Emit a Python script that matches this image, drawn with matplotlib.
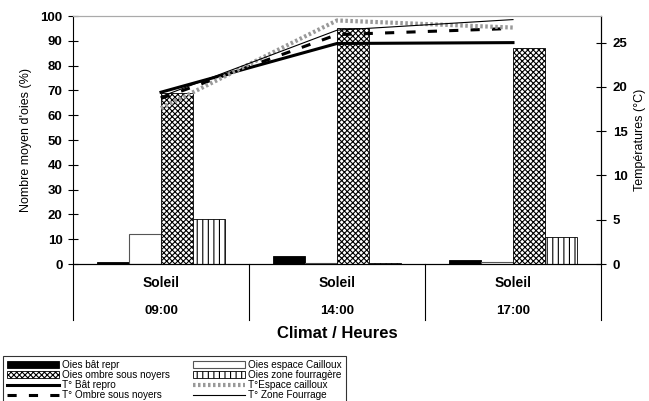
import numpy as np
import matplotlib
matplotlib.use('Agg')
import matplotlib.pyplot as plt
from matplotlib.transforms import blended_transform_factory

plt.rcParams['font.family'] = ['Liberation Sans', 'DejaVu Sans']
plt.rcParams['hatch.linewidth'] = 0.8

# donnees
climat = ['Soleil', 'Soleil', 'Soleil']
heures = ['09:00', '14:00', '17:00']

oies_bat = [1.0, 3.4, 1.5]
oies_cailloux = [12.0, 0.3, 0.8]
oies_ombre = [69.0, 95.0, 87.0]
oies_fourrage = [18.0, 0.3, 10.9]

t_bat = [19.4, 24.9, 25.0]
t_ombre = [18.7, 25.9, 26.6]
t_cailloux = [17.6, 27.5, 26.7]
t_fourrage = [18.9, 26.4, 27.6]

fig = plt.figure(figsize=(6.49, 4.01), dpi=100)
ax = fig.add_axes([0.1125, 0.3416, 0.8135, 0.6184])
ax2 = ax.twinx()

x = np.arange(len(heures)) + 0.5
w = 0.182

b1 = ax.bar(x - 1.5 * w, oies_bat, w, color='black', edgecolor='black', lw=0.6)
b2 = ax.bar(x - 0.5 * w, oies_cailloux, w, color='white', edgecolor='#555555', lw=0.8)
b3 = ax.bar(x + 0.5 * w, oies_ombre, w, color='white', edgecolor='black', lw=0.6, hatch='xxxxxx')
b4 = ax.bar(x + 1.5 * w, oies_fourrage, w, color='white', edgecolor='black', lw=0.6, hatch='|||')

l1, = ax2.plot(x, t_bat, color='black', lw=2.2)
l2, = ax2.plot(x, t_ombre, color='black', lw=2.2, ls=(0, (3, 4)))
l3, = ax2.plot(x, t_cailloux, color='#999999', lw=3, ls=(0, (0.6, 0.6)))
l4, = ax2.plot(x, t_fourrage, color='black', lw=0.8)

ax.set_xlim(0, 3)
ax.set_ylim(0, 100)
ax.set_yticks(np.arange(0, 101, 10))
ax2.set_ylim(0, 28)
ax2.set_yticks(np.arange(0, 26, 5))

for a in (ax, ax2):
    a.tick_params(axis='y', direction='inout', length=7, width=0.8, labelsize=9.5)
    for lab in a.get_yticklabels():
        lab.set_fontweight('bold')
    a.spines['top'].set_color('#aaaaaa')
ax.tick_params(axis='y', pad=4)
ax2.tick_params(axis='y', pad=5)
ax.tick_params(axis='x', bottom=False, labelbottom=False)
ax2.spines['left'].set_visible(False)

ax.set_ylabel("Nombre moyen d'oies (%)", fontsize=9, labelpad=6)
ax2.set_ylabel('Températures (°C)', fontsize=9, labelpad=5)

# etiquettes a deux niveaux sous l'axe
tr = blended_transform_factory(ax.transData, ax.transAxes)
for xs in [0, 1, 2, 3]:
    ax.plot([xs, xs], [0, -0.225], color='black', lw=0.8, transform=tr, clip_on=False)
for xi, c, h in zip(x, climat, heures):
    ax.text(xi, -0.075, c, transform=tr, ha='center', va='center', fontsize=10, fontweight='bold')
    ax.text(xi, -0.19, h, transform=tr, ha='center', va='center', fontsize=9.5, fontweight='bold')
ax.text(1.5, -0.25, 'Climat / Heures', transform=tr, ha='center', va='top', fontsize=12, fontweight='bold')

handles = [b1, b3, l1, l2, b2, b4, l3, l4]
labels = ['Oies bât repr', 'Oies ombre sous noyers', 'T° Bât repro', 'T° Ombre sous noyers',
          'Oies espace Cailloux', 'Oies zone fourragère', 'T°Espace cailloux', 'T° Zone Fourrage']
leg = fig.legend(handles, labels, ncol=2, loc='upper left', bbox_to_anchor=(0.005, 0.112),
                 fontsize=7.2, frameon=True, fancybox=False, edgecolor='black',
                 handlelength=5.2, handleheight=0.6, labelspacing=0.0, handletextpad=0.3,
                 columnspacing=2.3, borderpad=0.4, borderaxespad=0)
leg.get_frame().set_linewidth(0.8)

fig.savefig('out.png', dpi=100)
